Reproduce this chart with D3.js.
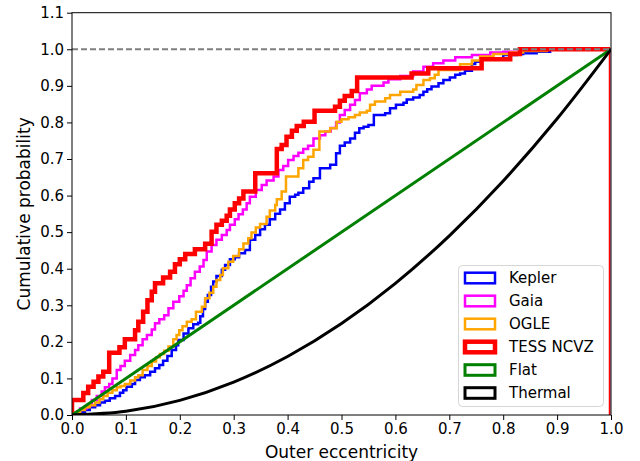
<!DOCTYPE html>
<html><head><meta charset="utf-8">
<script src="https://cdn.jsdelivr.net/npm/d3@7"></script>
<style>body{margin:0;background:#fff}svg{display:block}text{font-family:"DejaVu Sans",sans-serif}</style>
</head><body>
<svg id="chart" width="640" height="461"></svg>
<script>
// ---- data ----
const seriesNames = ["Kepler", "Gaia", "OGLE", "TESS NCVZ", "Flat", "Thermal"];
const xTicks = [0, 0.1, 0.2, 0.3, 0.4, 0.5, 0.6, 0.7, 0.8, 0.9, 1.0];
const yTicks = [0, 0.1, 0.2, 0.3, 0.4, 0.5, 0.6, 0.7, 0.8, 0.9, 1.0, 1.1];

const keplerX = [0.006,0.015,0.024,0.033,0.043,0.052,0.061,0.07,0.08,0.089,0.095,0.101,0.111,0.117,0.126,0.135,0.145,0.154,0.162,0.169,0.177,0.185,0.193,0.197,0.207,0.216,0.225,0.234,0.238,0.243,0.247,0.252,0.258,0.262,0.268,0.278,0.284,0.293,0.302,0.31,0.321,0.33,0.34,0.349,0.358,0.367,0.377,0.386,0.395,0.404,0.414,0.42,0.429,0.44,0.448,0.46,0.479,0.49,0.497,0.506,0.516,0.525,0.533,0.541,0.55,0.56,0.581,0.59,0.601,0.615,0.621,0.633,0.645,0.652,0.659,0.667,0.68,0.689,0.701,0.711,0.72,0.729,0.742,0.748,0.76,0.8,0.825,0.837,0.862,0.887];
const keplerY = [0.005,0.009,0.014,0.021,0.027,0.034,0.039,0.046,0.052,0.061,0.068,0.077,0.085,0.096,0.103,0.109,0.118,0.128,0.137,0.148,0.161,0.178,0.191,0.205,0.223,0.237,0.248,0.252,0.27,0.29,0.31,0.328,0.351,0.365,0.38,0.397,0.41,0.426,0.431,0.442,0.451,0.479,0.492,0.508,0.52,0.535,0.55,0.562,0.579,0.597,0.602,0.608,0.62,0.638,0.647,0.675,0.684,0.716,0.736,0.745,0.756,0.772,0.784,0.788,0.793,0.82,0.825,0.839,0.848,0.854,0.863,0.868,0.875,0.884,0.891,0.898,0.907,0.916,0.923,0.93,0.934,0.941,0.96,0.966,0.975,0.984,0.987,0.989,0.993,1.0];

const gaiaX = [0.009,0.015,0.027,0.037,0.046,0.055,0.061,0.069,0.075,0.083,0.09,0.098,0.108,0.117,0.123,0.131,0.139,0.148,0.154,0.162,0.171,0.179,0.188,0.199,0.207,0.213,0.22,0.228,0.237,0.244,0.25,0.259,0.268,0.278,0.287,0.293,0.302,0.309,0.317,0.324,0.33,0.341,0.352,0.361,0.374,0.383,0.392,0.401,0.411,0.42,0.429,0.438,0.448,0.46,0.47,0.48,0.49,0.497,0.506,0.516,0.525,0.534,0.547,0.556,0.578,0.587,0.609,0.633,0.652,0.67,0.689,0.711,0.742,0.776,0.8,0.831,0.874];
const gaiaY = [0.009,0.018,0.027,0.041,0.052,0.064,0.076,0.085,0.1,0.123,0.134,0.148,0.164,0.178,0.191,0.207,0.219,0.234,0.251,0.262,0.273,0.292,0.31,0.325,0.34,0.355,0.374,0.392,0.406,0.424,0.447,0.465,0.479,0.492,0.506,0.52,0.535,0.549,0.562,0.579,0.597,0.615,0.629,0.641,0.652,0.67,0.681,0.697,0.708,0.717,0.727,0.736,0.756,0.765,0.775,0.785,0.8,0.82,0.834,0.848,0.861,0.88,0.89,0.9,0.909,0.918,0.927,0.939,0.952,0.962,0.969,0.978,0.984,0.991,0.993,0.998,1.0];

const ogleX = [0.005,0.015,0.024,0.033,0.043,0.051,0.058,0.066,0.075,0.083,0.09,0.098,0.108,0.117,0.123,0.131,0.14,0.148,0.156,0.163,0.171,0.179,0.188,0.194,0.199,0.205,0.213,0.222,0.23,0.241,0.247,0.255,0.262,0.268,0.275,0.28,0.29,0.299,0.31,0.318,0.327,0.333,0.341,0.349,0.361,0.367,0.377,0.38,0.389,0.397,0.42,0.429,0.438,0.448,0.459,0.479,0.491,0.5,0.513,0.525,0.534,0.547,0.553,0.562,0.581,0.59,0.609,0.633,0.639,0.652,0.664,0.673,0.68,0.72,0.742,0.757,0.782,0.813,0.837,0.881];
const ogleY = [0.007,0.014,0.021,0.027,0.034,0.043,0.052,0.061,0.068,0.076,0.079,0.085,0.094,0.103,0.109,0.123,0.134,0.146,0.158,0.167,0.176,0.187,0.207,0.219,0.232,0.243,0.255,0.262,0.282,0.296,0.319,0.334,0.351,0.369,0.383,0.401,0.419,0.435,0.453,0.469,0.483,0.499,0.513,0.522,0.542,0.559,0.574,0.59,0.611,0.652,0.675,0.697,0.706,0.725,0.775,0.784,0.802,0.809,0.814,0.82,0.827,0.832,0.848,0.857,0.866,0.875,0.884,0.89,0.902,0.916,0.921,0.93,0.943,0.959,0.969,0.98,0.987,0.991,0.995,1.0];

const tessX = [0,0.021,0.03,0.04,0.049,0.058,0.069,0.088,0.098,0.117,0.123,0.132,0.14,0.148,0.154,0.169,0.182,0.191,0.2,0.21,0.228,0.247,0.259,0.268,0.278,0.287,0.293,0.302,0.31,0.318,0.34,0.38,0.389,0.398,0.408,0.417,0.43,0.45,0.488,0.497,0.506,0.519,0.529,0.63,0.661,0.76,0.813,0.831];
const tessY = [0.041,0.06,0.077,0.091,0.105,0.118,0.17,0.185,0.207,0.232,0.255,0.282,0.314,0.337,0.36,0.376,0.392,0.412,0.426,0.44,0.453,0.468,0.501,0.52,0.531,0.545,0.562,0.579,0.592,0.611,0.661,0.727,0.738,0.761,0.777,0.79,0.802,0.832,0.843,0.859,0.872,0.886,0.923,0.934,0.948,0.973,0.987,1.0];

const flatX = [0, 1];
const flatY = [0, 1];
const thermalX = [0, 0.1, 0.2, 0.3, 0.4, 0.5, 0.6, 0.7, 0.8, 0.9, 1.0];
const thermalY = [0, 0.01, 0.04, 0.09, 0.16, 0.25, 0.36, 0.49, 0.64, 0.81, 1.0];

// ---- layout ----
const svg = d3.select("#chart");
const L = 72, R = 611, T = 12.7, B = 415;
const x = d3.scaleLinear().domain([0, 1]).range([L, R]);
const y = d3.scaleLinear().domain([0, 1.1]).range([B, T]);

const defs = svg.append("defs");
defs.append("clipPath").attr("id", "clip")
  .append("rect").attr("x", L).attr("y", T).attr("width", R - L).attr("height", B - T);
defs.append("clipPath").attr("id", "clipStep")
  .append("rect").attr("x", L).attr("y", T).attr("width", R - L - 0.8).attr("height", B - T);

const stepLayer = svg.append("g").attr("clip-path", "url(#clipStep)");
const plot = svg.append("g").attr("clip-path", "url(#clip)");

function stepPoints(xs, ys) {
  const pts = [[0, 0]];
  let prev = 0;
  xs.forEach((xv, i) => { pts.push([xv, prev]); pts.push([xv, ys[i]]); prev = ys[i]; });
  pts.push([1, prev]); pts.push([1, 0]);
  return pts;
}
const line = d3.line().x(d => x(d[0])).y(d => y(d[1]));
const smooth = d3.line().x(d => x(d[0])).y(d => y(d[1])).curve(d3.curveMonotoneX);

const styles = {
  "Kepler": {color: "#0000ff", w: 2.5},
  "Gaia": {color: "#ff00ff", w: 2.5},
  "OGLE": {color: "#ffa500", w: 2.5},
  "TESS NCVZ": {color: "#ff0000", w: 4.5},
  "Flat": {color: "#008000", w: 3},
  "Thermal": {color: "#000000", w: 3}
};

const stepSeries = [["Kepler", keplerX, keplerY], ["Gaia", gaiaX, gaiaY], ["OGLE", ogleX, ogleY], ["TESS NCVZ", tessX, tessY]];
stepSeries.forEach(([name, xs, ys]) => {
  stepLayer.append("path").attr("d", line(stepPoints(xs, ys)))
    .attr("fill", "none").attr("stroke", styles[name].color)
    .attr("stroke-width", styles[name].w).attr("stroke-linejoin", "miter");
});
plot.append("path").attr("d", line(flatX.map((v, i) => [v, flatY[i]])))
  .attr("fill", "none").attr("stroke", styles["Flat"].color).attr("stroke-width", styles["Flat"].w);
plot.append("path").attr("d", smooth(thermalX.map((v, i) => [v, thermalY[i]])))
  .attr("fill", "none").attr("stroke", styles["Thermal"].color).attr("stroke-width", styles["Thermal"].w);

// dashed reference at 1.0
plot.append("line").attr("x1", x(0)).attr("x2", x(1)).attr("y1", y(1)).attr("y2", y(1))
  .attr("stroke", "#7f7f7f").attr("stroke-width", 1.8).attr("stroke-dasharray", "6,3");

// ---- axes ----
const xAxis = svg.append("g").attr("transform", `translate(0,${B})`)
  .call(d3.axisBottom(x).tickValues(xTicks).tickFormat(d3.format(".1f")).tickSize(5).tickPadding(3));
const yAxis = svg.append("g").attr("transform", `translate(${L},0)`)
  .call(d3.axisLeft(y).tickValues(yTicks).tickFormat(d3.format(".1f")).tickSize(5).tickPadding(3));
[xAxis, yAxis].forEach(a => {
  a.select(".domain").remove();
  a.selectAll("line").attr("stroke", "#000").attr("stroke-width", 1);
  a.selectAll("text").attr("font-size", 15).attr("fill", "#000").attr("font-family", "DejaVu Sans");
});
svg.append("rect").attr("x", L).attr("y", T).attr("width", R - L).attr("height", B - T)
  .attr("fill", "none").attr("stroke", "#000").attr("stroke-width", 1);

svg.append("text").attr("x", (L + R) / 2).attr("y", 458).attr("text-anchor", "middle")
  .attr("font-size", 17).text("Outer eccentricity");
svg.append("text").attr("transform", `translate(30,${(T + B) / 2}) rotate(-90)`)
  .attr("text-anchor", "middle").attr("font-size", 17).text("Cumulative probability");

// ---- legend ----
const lg = svg.append("g");
lg.append("rect").attr("x", 458.5).attr("y", 265.5).attr("width", 145).attr("height", 141).attr("rx", 4)
  .attr("fill", "#fff").attr("fill-opacity", 0.8).attr("stroke", "#d6d6d6").attr("stroke-width", 1);
seriesNames.forEach((name, i) => {
  const cy = 278 + i * 23;
  lg.append("rect").attr("x", 465).attr("y", cy - 5.3).attr("width", 30).attr("height", 10.6)
    .attr("fill", "none").attr("stroke", styles[name].color).attr("stroke-width", styles[name].w);
  lg.append("text").attr("x", 509).attr("y", cy).attr("dy", "0.36em").attr("font-size", 15).text(name);
});
</script>
</body></html>
